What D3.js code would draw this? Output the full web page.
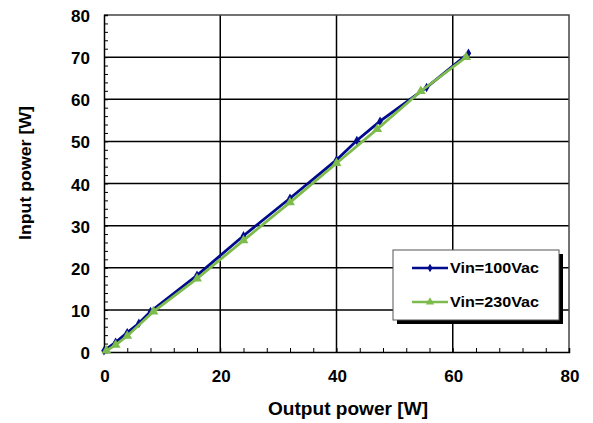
<!DOCTYPE html>
<html><head><meta charset="utf-8">
<script src="https://cdn.jsdelivr.net/npm/d3@7"></script>
<style>body{margin:0;background:#fff;} svg{display:block;font-family:Arial,"Liberation Sans",sans-serif;}</style>
</head><body><svg id="c" width="593" height="423"></svg>
<script>
const xTicks = [0, 20, 40, 60, 80];
const yTicks = [0, 10, 20, 30, 40, 50, 60, 70, 80];
const seriesNames = ["Vin=100Vac", "Vin=230Vac"];
const x100 = [0, 2, 4, 6, 8, 16, 24, 32, 40, 43.5, 47.5, 55.5, 62.7];
const y100 = [0.3, 2.3, 4.6, 6.8, 9.6, 18.2, 27.6, 36.5, 45.6, 50.2, 54.8, 62.8, 70.9];
const x230 = [0.4, 2, 4, 8.5, 16, 24, 32, 40, 47, 54.5, 62.3];
const y230 = [0.3, 1.7, 3.8, 9.6, 17.4, 26.5, 35.5, 44.8, 52.9, 61.9, 70.0];

const svg = d3.select("#c");
const L = 104, R = 569, T = 15, B = 352;
const x = d3.scaleLinear().domain([0, 80]).range([L, R]);
const y = d3.scaleLinear().domain([0, 80]).range([B, T]);

// grid
const g = svg.append("g");
g.selectAll("line.gx").data(xTicks.slice(1, -1)).enter().append("line")
  .attr("x1", d => x(d)).attr("x2", d => x(d)).attr("y1", T).attr("y2", B)
  .attr("stroke", "#000").attr("stroke-width", 1.5);
g.selectAll("line.gy").data(yTicks.slice(1, -1)).enter().append("line")
  .attr("y1", d => y(d)).attr("y2", d => y(d)).attr("x1", L).attr("x2", R)
  .attr("stroke", "#000").attr("stroke-width", 1.5);
svg.append("path").attr("d", `M${L},${T}H${R}V${B}`).attr("fill", "none")
  .attr("stroke", "#444").attr("stroke-width", 1.5);

// axes with inward minor ticks
const xAxis = d3.axisTop(x).tickValues(d3.range(0, 81, 4)).tickSize(4).tickFormat("");
svg.append("g").attr("transform", `translate(0,${B})`).call(xAxis)
  .call(s => s.select(".domain").attr("stroke", "#000").attr("stroke-width", 1.5))
  .call(s => s.selectAll(".tick line").attr("stroke", "#000"));
const yAxis = d3.axisRight(y).tickValues(d3.range(0, 81, 2)).tickSize(4).tickFormat("");
svg.append("g").attr("transform", `translate(${L},0)`).call(yAxis)
  .call(s => s.select(".domain").attr("stroke", "#000").attr("stroke-width", 1.5))
  .call(s => s.selectAll(".tick line").attr("stroke", "#000"));

// tick labels
svg.selectAll("text.xl").data(xTicks).enter().append("text")
  .attr("x", d => x(d) + 1).attr("y", 382).attr("text-anchor", "middle")
  .attr("font-size", 17).attr("font-weight", "bold").text(d => d);
svg.selectAll("text.yl").data(yTicks).enter().append("text")
  .attr("x", 90).attr("y", d => y(d) + 7).attr("text-anchor", "end")
  .attr("font-size", 17).attr("font-weight", "bold").text(d => d);

// axis titles
svg.append("text").attr("x", 348).attr("y", 415).attr("text-anchor", "middle")
  .attr("font-size", 18).attr("font-weight", "bold")
  .attr("textLength", 160).attr("lengthAdjust", "spacingAndGlyphs").text("Output power [W]");
svg.append("text").attr("transform", `translate(31,173) rotate(-90)`)
  .attr("text-anchor", "middle").attr("font-size", 17).attr("font-weight", "bold")
  .attr("textLength", 134).attr("lengthAdjust", "spacingAndGlyphs")
  .text("Input power [W]");

// series
const navy = "#000a8c", green = "#7cbb4c";
const d100 = x100.map((v, i) => [v, y100[i]]);
const d230 = x230.map((v, i) => [v, y230[i]]);
const line = d3.line().x(d => x(d[0])).y(d => y(d[1]));
svg.append("path").datum(d100).attr("d", line).attr("fill", "none").attr("stroke", navy).attr("stroke-width", 2.8);
svg.selectAll("path.m100").data(d100).enter().append("path")
  .attr("d", d3.symbol(d3.symbolDiamond, 26)).attr("fill", navy)
  .attr("transform", d => `translate(${x(d[0])},${y(d[1])})`);
svg.append("path").datum(d230).attr("d", line).attr("fill", "none").attr("stroke", green).attr("stroke-width", 2.8);
svg.selectAll("path.m230").data(d230).enter().append("path")
  .attr("d", d3.symbol(d3.symbolTriangle, 42)).attr("fill", green)
  .attr("transform", d => `translate(${x(d[0])},${y(d[1])})`);

// legend
const lg = svg.append("g");
lg.append("rect").attr("x", 397).attr("y", 254).attr("width", 166).attr("height", 70).attr("fill", "#000");
lg.append("rect").attr("x", 393).attr("y", 250).attr("width", 166).attr("height", 70)
  .attr("fill", "#fff").attr("stroke", "#555").attr("stroke-width", 1);
const items = [[navy, d3.symbolDiamond, 22], [green, d3.symbolTriangle, 30]];
seriesNames.forEach((n, i) => {
  const yy = 268 + i * 34;
  lg.append("line").attr("x1", 412).attr("x2", 448).attr("y1", yy).attr("y2", yy)
    .attr("stroke", items[i][0]).attr("stroke-width", 2.5);
  lg.append("path").attr("d", d3.symbol(items[i][1], items[i][2])).attr("fill", items[i][0])
    .attr("transform", `translate(430,${yy})`);
  lg.append("text").attr("x", 450).attr("y", yy + 5).attr("font-size", 14)
    .attr("font-weight", "bold").attr("textLength", 89).attr("lengthAdjust", "spacingAndGlyphs").text(n);
});
</script></body></html>
